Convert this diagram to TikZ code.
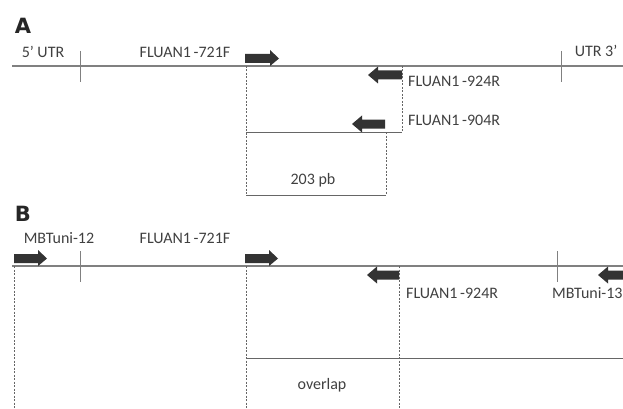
\documentclass[tikz,border=0pt]{standalone}
\usepackage{fontspec}
\setmainfont{Carlito}
\newfontfamily\labelfont{DejaVu Sans}
\begin{document}
\begin{tikzpicture}[x=1pt,y=-1pt,
  mainline/.style={draw=black!50,line width=1.1pt},
  tickline/.style={draw=black!50,line width=1pt},
  segline/.style={draw=black!60,line width=0.9pt},
  dashline/.style={draw=black!60,line width=0.8pt,dash pattern=on 2pt off 1.5pt},
  lbl/.style={font=\fontsize{16}{18}\selectfont,text=black!75,inner sep=0pt},
  panel/.style={font=\labelfont\bfseries\fontsize{21}{22}\selectfont,text=black!85,inner sep=0pt},
  fwd/.style={fill=black!80,draw=none},
]
\useasboundingbox (0,0) rectangle (623,409);
\begin{scope}
\clip (0,0) rectangle (623,409);
% ---------- Panel A ----------
\node[panel] (pA) at (23,26) {A};
\coordinate (aL) at (12,66);
\coordinate (aR) at (623,66);
\draw[mainline] (aL) -- (aR);
\coordinate (t1a) at (80,51); \coordinate (t1b) at (80,82);
\draw[tickline] (t1a) -- (t1b);
\coordinate (t2a) at (561,51); \coordinate (t2b) at (561,82);
\draw[tickline] (t2a) -- (t2b);
\node[lbl] (utr5) at (43,52) {5’ UTR};
\node[lbl] (f721a) at (185,52) {FLUAN1\,-721F};
\node[lbl] (utr3) at (596,51) {UTR 3’};
% forward arrow 721F
\path[fwd] (245,54) -- (270,54) -- (270,50) -- (279,58.5) -- (270,66) -- (270,63) -- (245,63) -- cycle;
% reverse arrow 924R
\path[fwd] (402,70.5) -- (378,70.5) -- (378,66.5) -- (368,75) -- (378,83.5) -- (378,79.5) -- (402,79.5) -- cycle;
\node[lbl,anchor=west] (r924a) at (408,81) {FLUAN1\,-924R};
% reverse arrow 904R
\path[fwd] (385,119.5) -- (362,119.5) -- (362,115.5) -- (352,124) -- (362,132.5) -- (362,128.5) -- (385,128.5) -- cycle;
\node[lbl,anchor=west] (r904a) at (408,120) {FLUAN1\,-904R};
\coordinate (dA1t) at (246,66); \coordinate (dA1b) at (246,195);
\draw[dashline] (dA1t) -- (dA1b);
\coordinate (dA2t) at (402,66); \coordinate (dA2b) at (402,132);
\draw[dashline] (dA2t) -- (dA2b);
\coordinate (dA3t) at (386,132); \coordinate (dA3b) at (386,195);
\draw[dashline] (dA3t) -- (dA3b);
\coordinate (hA1l) at (246,132); \coordinate (hA1r) at (402,132);
\draw[segline] (hA1l) -- (hA1r);
\coordinate (hA2l) at (246,195); \coordinate (hA2r) at (386,195);
\draw[segline] (hA2l) -- (hA2r);
\node[lbl] (pb) at (313,180) {203 pb};
% ---------- Panel B ----------
\node[panel] (pB) at (23,214) {B};
\coordinate (bL) at (12,266);
\coordinate (bR) at (623,266);
\draw[mainline] (bL) -- (bR);
\coordinate (t3a) at (80,251); \coordinate (t3b) at (80,282);
\draw[tickline] (t3a) -- (t3b);
\coordinate (t4a) at (557,251); \coordinate (t4b) at (557,282);
\draw[tickline] (t4a) -- (t4b);
\node[lbl] (mb12) at (59,238) {MBTuni-12};
\node[lbl] (f721b) at (185,238) {FLUAN1\,-721F};
% forward arrows
\path[fwd] (14,254) -- (38,254) -- (38,250) -- (47,258.5) -- (38,266) -- (38,263) -- (14,263) -- cycle;
\path[fwd] (245,254) -- (269,254) -- (269,250) -- (278,258.5) -- (269,266) -- (269,263) -- (245,263) -- cycle;
% reverse arrows
\path[fwd] (399,270.5) -- (377,270.5) -- (377,266.5) -- (367,275) -- (377,283.5) -- (377,279.5) -- (399,279.5) -- cycle;
\path[fwd] (640,270.5) -- (608,270.5) -- (608,266.5) -- (598,275) -- (608,283.5) -- (608,279.5) -- (640,279.5) -- cycle;
\node[lbl,anchor=west] (r924b) at (406,293) {FLUAN1\,-924R};
\node[lbl,anchor=west] (mb13) at (552,293) {MBTuni-13};
\coordinate (dB1t) at (14,266); \coordinate (dB1b) at (14,409);
\draw[dashline] (dB1t) -- (dB1b);
\coordinate (dB2t) at (246,266); \coordinate (dB2b) at (246,409);
\draw[dashline] (dB2t) -- (dB2b);
\coordinate (dB3t) at (399,266); \coordinate (dB3b) at (399,409);
\draw[dashline] (dB3t) -- (dB3b);
\coordinate (hBl) at (246,358); \coordinate (hBr) at (623,358);
\draw[segline] (hBl) -- (hBr);
\node[lbl] (ovl) at (322,385) {overlap};
\end{scope}
\end{tikzpicture}
\end{document}
